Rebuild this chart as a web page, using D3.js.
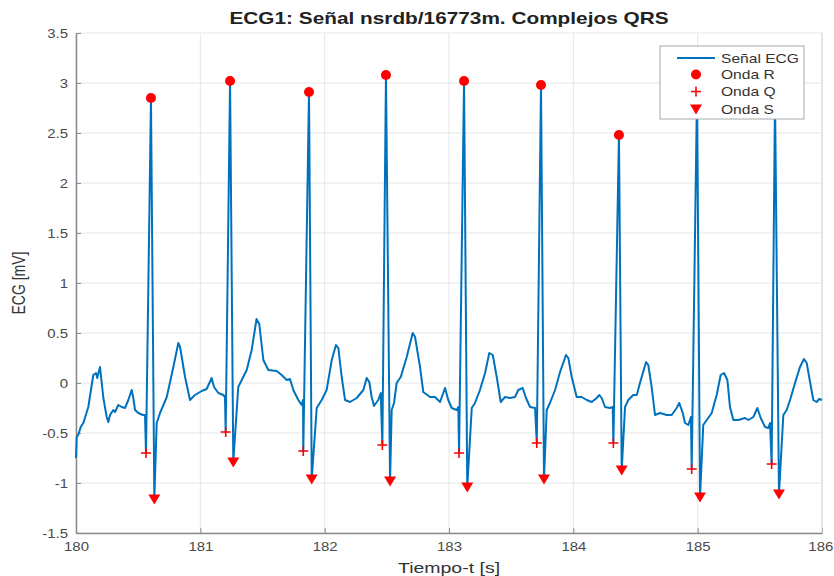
<!DOCTYPE html>
<html>
<head>
<meta charset="utf-8">
<script src="https://cdn.jsdelivr.net/npm/d3@7"></script>
<style>
  html, body { margin: 0; padding: 0; background: #fff; }
  svg { display: block; font-family: "Liberation Sans", Arial, Helvetica, sans-serif; }
</style>
</head>
<body>
<svg id="chart" width="834" height="576"></svg>
<script>
// ECG trace, [time (s), amplitude (mV)]
const ecgSignal = [
  [180.000,-0.75],[180.006,-0.54],[180.018,-0.52],[180.038,-0.44],[180.059,-0.40],[180.099,-0.24],
  [180.139,0.08],[180.161,0.10],[180.171,0.05],[180.193,0.16],[180.207,0.00],[180.220,-0.15],
  [180.247,-0.34],[180.260,-0.39],[180.274,-0.32],[180.300,-0.27],[180.314,-0.29],[180.340,-0.22],
  [180.368,-0.24],[180.394,-0.25],[180.421,-0.17],[180.448,-0.07],[180.461,-0.15],[180.475,-0.27],
  [180.501,-0.30],[180.537,-0.32],[180.555,-0.32],
  [180.563,-0.70],[180.603,2.85],[180.630,-1.16],
  [180.649,-0.40],[180.676,-0.30],[180.730,-0.14],[180.783,0.16],[180.823,0.40],[180.837,0.36],
  [180.877,0.06],[180.917,-0.17],[180.957,-0.12],[181.011,-0.08],[181.051,-0.06],[181.091,0.05],
  [181.110,-0.04],[181.145,-0.10],[181.185,-0.12],[181.198,-0.14],
  [181.204,-0.49],[181.239,3.02],[181.265,-0.79],
  [181.305,-0.04],[181.333,0.03],[181.373,0.13],[181.413,0.33],[181.452,0.64],[181.474,0.59],
  [181.507,0.23],[181.547,0.13],[181.614,0.12],[181.654,0.08],[181.695,0.03],[181.721,0.04],
  [181.748,-0.07],[181.788,-0.17],[181.815,-0.22],[181.826,-0.17],
  [181.828,-0.68],[181.874,2.91],[181.896,-0.96],
  [181.936,-0.25],[181.976,-0.17],[182.016,-0.07],[182.057,0.23],[182.091,0.38],[182.110,0.35],
  [182.137,0.06],[182.164,-0.17],[182.204,-0.19],[182.258,-0.15],[182.311,-0.07],[182.338,0.05],
  [182.359,0.01],[182.378,-0.14],[182.397,-0.23],[182.431,-0.17],[182.451,-0.10],
  [182.464,-0.62],[182.493,3.08],[182.526,-0.98],
  [182.539,-0.27],[182.558,-0.20],[182.579,0.00],[182.612,0.06],[182.660,0.26],[182.708,0.50],
  [182.727,0.46],[182.767,0.16],[182.793,-0.09],[182.847,-0.14],[182.887,-0.14],[182.928,-0.19],
  [182.968,-0.05],[182.994,-0.17],[183.022,-0.25],[183.062,-0.27],[183.075,-0.24],
  [183.081,-0.70],[183.121,3.02],[183.147,-1.04],
  [183.183,-0.25],[183.209,-0.20],[183.249,-0.07],[183.290,0.10],[183.324,0.30],[183.352,0.28],
  [183.384,0.06],[183.416,-0.19],[183.451,-0.14],[183.491,-0.15],[183.531,-0.14],[183.557,-0.07],
  [183.593,-0.05],[183.619,-0.15],[183.652,-0.24],[183.692,-0.25],
  [183.706,-0.60],[183.740,2.98],[183.764,-0.96],
  [183.786,-0.27],[183.812,-0.20],[183.853,-0.07],[183.893,0.11],[183.941,0.28],[183.960,0.25],
  [183.987,0.06],[184.027,-0.14],[184.067,-0.14],[184.108,-0.17],[184.148,-0.19],[184.188,-0.15],
  [184.209,-0.12],[184.228,-0.15],[184.255,-0.24],[184.295,-0.25],[184.317,-0.24],
  [184.322,-0.60],[184.367,2.48],[184.389,-0.87],
  [184.416,-0.24],[184.442,-0.17],[184.482,-0.12],[184.510,-0.12],[184.536,0.00],[184.585,0.21],
  [184.603,0.18],[184.630,-0.04],[184.657,-0.32],[184.697,-0.30],[184.751,-0.32],[184.791,-0.32],
  [184.831,-0.25],[184.852,-0.20],[184.880,-0.30],[184.898,-0.40],[184.925,-0.42],[184.946,-0.34],
  [184.952,-0.86],[184.995,2.92],[185.019,-1.14],
  [185.045,-0.42],[185.073,-0.37],[185.113,-0.30],[185.153,-0.12],[185.185,0.08],[185.212,0.10],
  [185.239,0.03],[185.260,-0.24],[185.287,-0.37],[185.327,-0.37],[185.381,-0.35],[185.407,-0.37],
  [185.448,-0.34],[185.480,-0.25],[185.507,-0.35],[185.542,-0.44],[185.568,-0.45],[185.582,-0.40],
  [185.595,-0.81],[185.622,2.86],[185.654,-1.11],
  [185.689,-0.32],[185.716,-0.27],[185.743,-0.17],[185.783,0.00],[185.823,0.16],[185.855,0.24],
  [185.877,0.20],[185.904,0.01],[185.930,-0.17],[185.957,-0.19],[185.978,-0.16],[186.000,-0.17]
];

// Detected fiducial points
const rTime  = [180.603, 181.239, 181.874, 182.493, 183.121, 183.740, 184.367, 184.995, 185.622];
const rValue = [2.85, 3.02, 2.91, 3.08, 3.02, 2.98, 2.48, 2.92, 2.86];
const qTime  = [180.563, 181.204, 181.828, 182.464, 183.081, 183.706, 184.322, 184.952, 185.595];
const qValue = [-0.70, -0.49, -0.68, -0.62, -0.70, -0.60, -0.60, -0.86, -0.81];
const sTime  = [180.630, 181.265, 181.896, 182.526, 183.147, 183.764, 184.389, 185.019, 185.654];
const sValue = [-1.16, -0.79, -0.96, -0.98, -1.04, -0.96, -0.87, -1.14, -1.11];

const xTicks = [180, 181, 182, 183, 184, 185, 186];
const yTicks = [-1.5, -1, -0.5, 0, 0.5, 1, 1.5, 2, 2.5, 3, 3.5];

const legendLabels = ["Señal ECG", "Onda R", "Onda Q", "Onda S"];
const titleText = "ECG1: Señal nsrdb/16773m. Complejos QRS";
const xLabel = "Tiempo-t [s]";
const yLabel = "ECG [mV]";

const lineColor = "#0072bd";
const markColor = "#ff0000";
const textWiden = 1.3;   // glyphs are drawn a little wider than tall
const tickWiden = 1.15;

const svg = d3.select("#chart");
const margin = { left: 76, right: 12, top: 33, bottom: 43 };
const W = 834, H = 576;
const pw = W - margin.left - margin.right;
const ph = H - margin.top - margin.bottom;

const x = d3.scaleLinear().domain([180, 186]).range([margin.left, margin.left + pw]);
const y = d3.scaleLinear().domain([-1.5, 3.5]).range([margin.top + ph, margin.top]);

// place a text at (px, py), widened horizontally about its anchor
function wideText(parent, px, py, str) {
  return parent.append("text")
    .attr("transform", `translate(${px},${py}) scale(${textWiden},1)`)
    .text(str);
}

// grid
const grid = svg.append("g");
grid.selectAll(".gx").data(xTicks).join("line")
  .attr("x1", d => x(d)).attr("x2", d => x(d))
  .attr("y1", y(-1.5)).attr("y2", y(3.5))
  .attr("stroke", "#e6e6e6").attr("stroke-width", 1);
grid.selectAll(".gy").data(yTicks).join("line")
  .attr("x1", x(180)).attr("x2", x(186))
  .attr("y1", d => y(d)).attr("y2", d => y(d))
  .attr("stroke", "#e6e6e6").attr("stroke-width", 1);

// axes
const fmt = d => String(d);
const xAxis = d3.axisBottom(x).tickValues(xTicks).tickFormat(fmt).tickSizeInner(-5).tickSizeOuter(0).tickPadding(9);
const yAxis = d3.axisLeft(y).tickValues(yTicks).tickFormat(fmt).tickSizeInner(-5).tickSizeOuter(0);

const gx = svg.append("g").attr("transform", `translate(0,${y(-1.5)})`).call(xAxis);
const gy = svg.append("g").attr("transform", `translate(${x(180)},0)`).call(yAxis);
[gx, gy].forEach(g => {
  g.select(".domain").attr("stroke", "#8a8a8a").attr("stroke-width", 1.5);
  g.selectAll(".tick line").attr("stroke", "#8a8a8a");
  g.selectAll(".tick text").attr("fill", "#4a4a4a").attr("font-size", 13)
    .attr("transform", `scale(${tickWiden},1)`);
});
gy.selectAll(".tick text").attr("x", -7);
// keep the last time label inside the frame
gx.selectAll(".tick text").filter(d => d === 186).attr("dx", -1.5);

// right border
svg.append("line")
  .attr("x1", x(186)).attr("x2", x(186)).attr("y1", y(-1.5)).attr("y2", y(3.5))
  .attr("stroke", "#d8d8d8").attr("stroke-width", 1);

// signal
const line = d3.line().x(d => x(d[0])).y(d => y(d[1]));
svg.append("path").datum(ecgSignal)
  .attr("d", line)
  .attr("fill", "none")
  .attr("stroke", lineColor)
  .attr("stroke-width", 2)
  .attr("stroke-linejoin", "round");

// R peaks
svg.append("g").selectAll("circle").data(rTime).join("circle")
  .attr("cx", d => x(d)).attr("cy", (d, i) => y(rValue[i]))
  .attr("r", 5).attr("fill", markColor);

// Q points
const plusPath = "M-5,0H5M0,-5V5";
svg.append("g").selectAll("path").data(qTime).join("path")
  .attr("transform", (d, i) => `translate(${x(d)},${y(qValue[i])})`)
  .attr("d", plusPath)
  .attr("stroke", markColor).attr("stroke-width", 1.6).attr("fill", "none");

// S points
const tri = "M-6,-4.5L6,-4.5L0,5.5Z";
svg.append("g").selectAll("path").data(sTime).join("path")
  .attr("transform", (d, i) => `translate(${x(d)},${y(sValue[i])})`)
  .attr("d", tri).attr("fill", markColor);

// title and labels
wideText(svg, x(183), 24, titleText)
  .attr("text-anchor", "middle")
  .attr("font-weight", "bold").attr("font-size", 16)
  .attr("fill", "#222");

wideText(svg, x(183), 573, xLabel)
  .attr("text-anchor", "middle")
  .attr("font-size", 15).attr("fill", "#333");

svg.append("text")
  .attr("transform", `translate(25,${y(1)}) rotate(-90) scale(1,${textWiden})`)
  .attr("text-anchor", "middle")
  .attr("font-size", 14).attr("fill", "#333")
  .text(yLabel);

// legend
const lg = svg.append("g").attr("transform", "translate(660,46)");
lg.append("rect").attr("width", 144).attr("height", 73)
  .attr("fill", "#fff").attr("stroke", "#a8a8a8").attr("stroke-width", 1);
const rowY = [12, 28.5, 45.5, 63];
lg.append("line").attr("x1", 17).attr("x2", 55).attr("y1", rowY[0]).attr("y2", rowY[0])
  .attr("stroke", lineColor).attr("stroke-width", 2);
lg.append("circle").attr("cx", 36).attr("cy", rowY[1]).attr("r", 5).attr("fill", markColor);
lg.append("path").attr("transform", `translate(36,${rowY[2]})`).attr("d", plusPath)
  .attr("stroke", markColor).attr("stroke-width", 1.6);
lg.append("path").attr("transform", `translate(36,${rowY[3]})`).attr("d", tri).attr("fill", markColor);
legendLabels.forEach((lab, i) => {
  wideText(lg, 61, rowY[i] + 4.5, lab).attr("font-size", 12).attr("fill", "#333");
});
</script>
</body>
</html>
